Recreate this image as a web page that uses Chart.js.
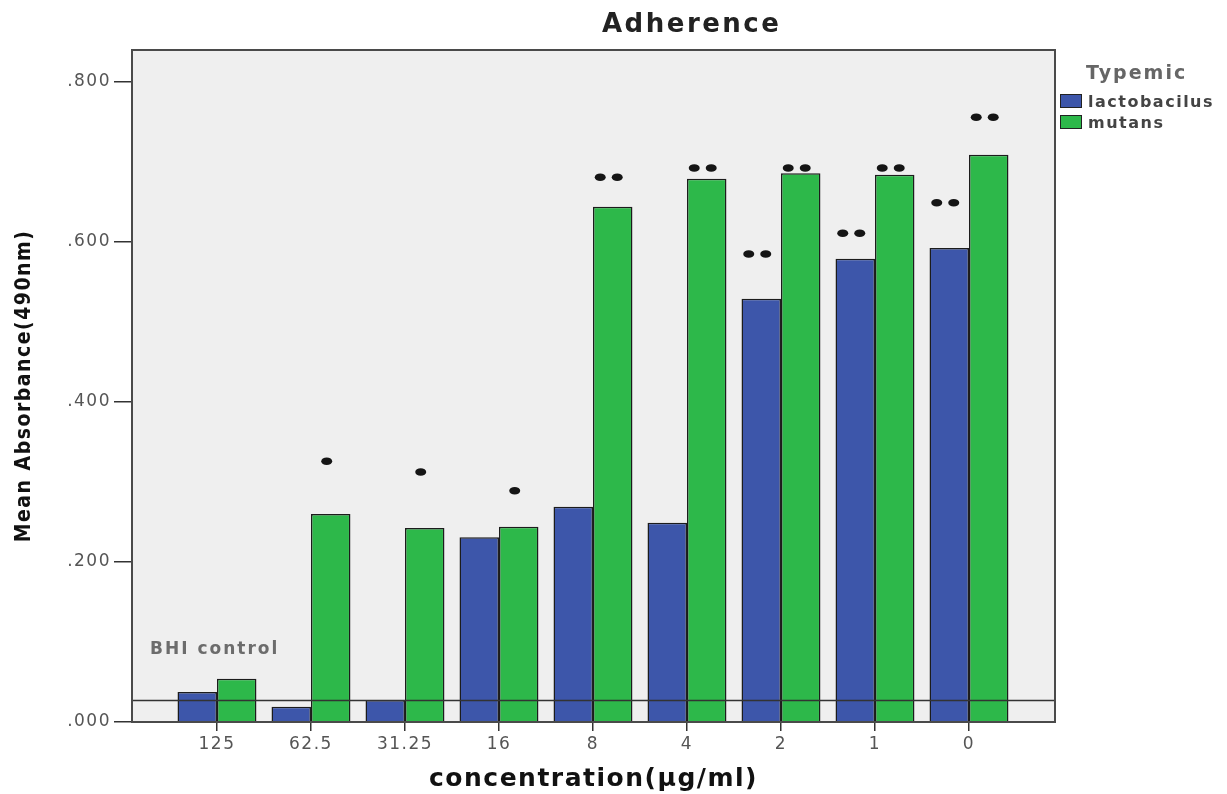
<!DOCTYPE html>
<html>
<head>
<meta charset="utf-8">
<script src="https://cdn.jsdelivr.net/npm/chart.js@4.4.0/dist/chart.umd.min.js"></script>
<style>
  html, body { margin: 0; padding: 0; background: #fff; }
  #wrap { position: relative; width: 1227px; height: 794px; }
  #title { position: absolute; left: 602px; top: 7px; font: bold 26px 'DejaVu Sans', sans-serif;
           letter-spacing: 2.5px; color: #222; white-space: nowrap; line-height: 32px; }
  #legend { position: absolute; left: 1060px; top: 58px; width: 167px; height: 80px;
            font-family: 'DejaVu Sans', sans-serif; white-space: nowrap; }
  #legend .head { position: absolute; left: 26px; top: 0; font-weight: bold; font-size: 19px;
                  letter-spacing: 2px; color: #666; line-height: 28px; }
  #legend .sw { position: absolute; left: 0; width: 20px; height: 12px; border: 1px solid #222; }
  #legend .lab { position: absolute; left: 28px; font-size: 16px; letter-spacing: 1.5px;
                 color: #444; line-height: 20px; font-weight: 600; }
</style>
</head>
<body>
<div id="wrap">
  <canvas id="chart" width="1227" height="794"></canvas>
  <div id="title">Adherence</div>
  <div id="legend"></div>
</div>
<script>
// ── Data ───────────────────────────────────────────────────────────────────
const concLabels = ['125', '62.5', '31.25', '16', '8', '4', '2', '1', '0'];
const seriesNames = ['lactobacilus', 'mutans'];
const lactoValues = [0.0375, 0.019, 0.0275, 0.231, 0.269, 0.249, 0.529, 0.579, 0.5925];
const mutansValues = [0.054, 0.260, 0.2425, 0.244, 0.644, 0.679, 0.686, 0.684, 0.709];
// significance marks (number of asterisks) and the level they sit at
const lactoStars = [0, 0, 0, 0, 0, 0, 2, 2, 2];
const lactoStarLevel = [null, null, null, null, null, null, 0.585, 0.611, 0.649];
const mutansStars = [0, 1, 1, 1, 2, 2, 2, 2, 2];
const mutansStarLevel = [null, 0.326, 0.3125, 0.289, 0.681, 0.6925, 0.6925, 0.6925, 0.756];
const bhiControl = 0.027;
const yTicks = [0, 0.2, 0.4, 0.6, 0.8];

const BLUE = '#3d56aa';
const GREEN = '#2db84a';
const FONT = "'DejaVu Sans', sans-serif";

// ── Plugins ────────────────────────────────────────────────────────────────
const framePlugin = {
  id: 'frame',
  beforeDraw(chart) {
    const { ctx, chartArea: a } = chart;
    ctx.letterSpacing = '1.5px';
    ctx.save();
    ctx.fillStyle = '#efefef';
    ctx.fillRect(a.left, a.top, a.right - a.left, a.bottom - a.top);
    ctx.restore();
  },
  afterDraw(chart) {
    const { ctx, chartArea: a } = chart;
    ctx.save();
    ctx.strokeStyle = '#4a4a4a';
    ctx.lineWidth = 2;
    ctx.strokeRect(a.left, a.top, a.right - a.left, a.bottom - a.top);
    ctx.restore();
  }
};

const bhiPlugin = {
  id: 'bhi',
  afterDatasetsDraw(chart) {
    const { ctx, chartArea: a, scales: { y } } = chart;
    const py = y.getPixelForValue(bhiControl);
    ctx.save();
    ctx.strokeStyle = '#333';
    ctx.lineWidth = 1.5;
    ctx.beginPath();
    ctx.moveTo(a.left, py);
    ctx.lineTo(a.right, py);
    ctx.stroke();
    ctx.font = 'bold 17px ' + FONT;
    ctx.letterSpacing = '2px';
    ctx.fillStyle = '#6c6c6c';
    ctx.textBaseline = 'middle';
    ctx.fillText('BHI control', a.left + 18, py - 51);
    ctx.restore();
  }
};

const starPlugin = {
  id: 'stars',
  afterDatasetsDraw(chart) {
    const { ctx, scales: { y } } = chart;
    const sets = [[0, lactoStars, lactoStarLevel], [1, mutansStars, mutansStarLevel]];
    ctx.save();
    ctx.fillStyle = '#151515';
    sets.forEach(([di, counts, levels]) => {
      chart.getDatasetMeta(di).data.forEach((bar, i) => {
        const n = counts[i];
        if (!n) return;
        const py = y.getPixelForValue(levels[i]);
        for (let k = 0; k < n; k++) {
          const px = bar.x - 4 + (k - (n - 1) / 2) * 17;
          ctx.beginPath();
          ctx.ellipse(px, py, 5.5, 3.8, 0, 0, Math.PI * 2);
          ctx.fill();
        }
      });
    });
    ctx.restore();
  }
};

// ── Chart ──────────────────────────────────────────────────────────────────
new Chart(document.getElementById('chart'), {
  type: 'bar',
  data: {
    datasets: [
      { label: seriesNames[0], data: lactoValues.map((v, i) => ({ x: i, y: v })),
        backgroundColor: BLUE, borderColor: '#1c1c1c', borderWidth: 1.5 },
      { label: seriesNames[1], data: mutansValues.map((v, i) => ({ x: i, y: v })),
        backgroundColor: GREEN, borderColor: '#1c1c1c', borderWidth: 1.5 }
    ]
  },
  options: {
    responsive: false,
    animation: false,
    categoryPercentage: 0.84,
    barPercentage: 1.0,
    layout: { padding: { top: 50, right: 172, left: 0, bottom: 0 } },
    plugins: { legend: { display: false }, tooltip: { enabled: false }, title: { display: false } },
    scales: {
      x: {
        type: 'linear',
        offset: false,
        min: -0.904,
        max: 8.915,
        afterFit: s => { s.height = 72; },
        grid: { drawOnChartArea: false, offset: false, tickLength: 9, color: '#333', lineWidth: 1.5 },
        border: { display: false },
        ticks: {
          stepSize: 1, includeBounds: false, autoSkip: false, maxRotation: 0, padding: 3,
          color: '#555', font: { family: FONT, size: 17 },
          callback: v => (Number.isInteger(v) ? concLabels[v] : '')
        },
        title: {
          display: true, text: 'concentration(µg/ml)', color: '#111',
          font: { family: FONT, size: 25, weight: 'bold' }, padding: { top: 0, bottom: 0 }
        }
      },
      y: {
        min: 0,
        max: 0.84,
        afterFit: s => { s.width = 132; },
        afterBuildTicks: s => { s.ticks = yTicks.map(v => ({ value: v })); },
        grid: { drawOnChartArea: false, tickLength: 18, color: '#333', lineWidth: 1.5 },
        border: { display: false },
        ticks: {
          padding: 3, color: '#555', font: { family: FONT, size: 17 },
          callback: v => v.toFixed(3).replace(/^0/, '')
        },
        title: {
          display: true, text: 'Mean Absorbance(490nm)', color: '#111',
          font: { family: "'Liberation Sans Narrow', 'DejaVu Sans Condensed', sans-serif", size: 21, weight: 'bold' },
          padding: { top: 12, bottom: 0 }
        }
      }
    }
  },
  plugins: [framePlugin, bhiPlugin, starPlugin]
});

// ── Legend ─────────────────────────────────────────────────────────────────
const legend = document.getElementById('legend');
legend.innerHTML = '<div class="head">Typemic</div>' +
  seriesNames.map((name, i) =>
    `<div class="sw" style="top:${36 + i * 21}px;background:${[BLUE, GREEN][i]}"></div>` +
    `<div class="lab" style="top:${34 + i * 21}px">${name}</div>`).join('');
</script>
</body>
</html>
